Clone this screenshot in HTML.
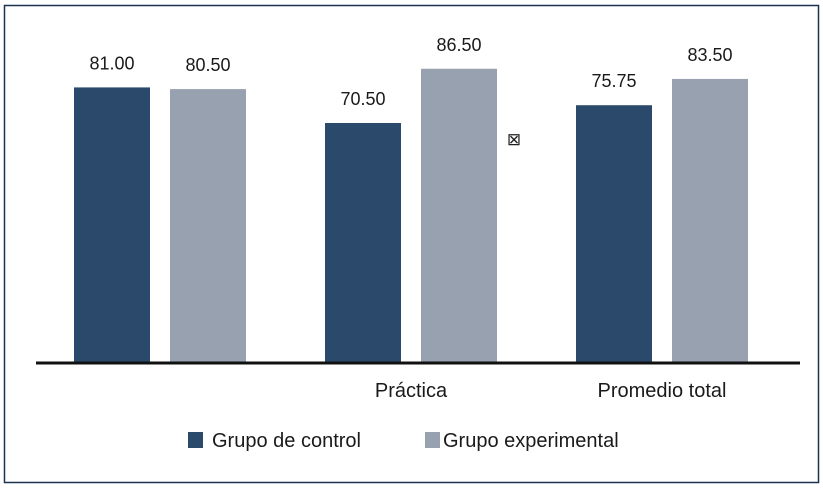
<!DOCTYPE html>
<html><head><meta charset="utf-8"><style>
body{margin:0;background:#fff;width:823px;height:488px;overflow:hidden}
svg{display:block;font-family:"Liberation Sans",sans-serif}
</style></head><body>
<svg width="823" height="488">
<rect x="4.5" y="5.5" width="814" height="477" fill="none" stroke="#1c3350" stroke-width="1.5"/>
<g id="bars"></g>
<line x1="36" y1="363" x2="800" y2="363" stroke="#111" stroke-width="3"/>
<text x="514" y="145" font-size="17" text-anchor="middle" fill="#222">⊠</text>
<g>
<rect x="188" y="432" width="15" height="16" fill="#2b4a6b"/>
<text x="212" y="447" font-size="20" fill="#1a1a1a">Grupo de control</text>
<rect x="425" y="432" width="15" height="16" fill="#98a1b0"/>
<text x="443" y="447" font-size="20" fill="#1a1a1a">Grupo experimental</text>
</g>
</svg>
<script>
const categories = ["", "Práctica", "Promedio total"];
const control = [81.00, 70.50, 75.75];
const experimental = [80.50, 86.50, 83.50];
const colors = ["#2b4a6b", "#98a1b0"];
const g = document.getElementById('bars');
const NS = "http://www.w3.org/2000/svg";
const baseY = 362, pxPerUnit = 3.39;
function y(v){return baseY - v*pxPerUnit;}
function xBar(ci, si){return 74 + ci*251 + si*96;}
const bw = 76;
[control, experimental].forEach((series, si) => {
  series.forEach((v, ci) => {
    const r = document.createElementNS(NS, 'rect');
    
    
    r.setAttribute('x', xBar(ci, si));
    r.setAttribute('y', y(v));
    r.setAttribute('width', bw);
    r.setAttribute('height', baseY - y(v));
    r.setAttribute('fill', colors[si]);
    g.appendChild(r);
    const t = document.createElementNS(NS, 'text');
    
    
    t.setAttribute('x', xBar(ci, si) + bw/2);
    t.setAttribute('y', y(v) - 18);
    t.setAttribute('text-anchor', 'middle');
    t.setAttribute('font-size', '18');
    t.setAttribute('fill', '#1a1a1a');
    t.textContent = v.toFixed(2);
    g.appendChild(t);
  });
});
categories.forEach((c, ci) => {
  const t = document.createElementNS(NS, 'text');
  
  
  t.setAttribute('x', xBar(ci, 0) + 86);
  t.setAttribute('y', 397);
  t.setAttribute('text-anchor', 'middle');
  t.setAttribute('font-size', '20');
  t.setAttribute('fill', '#1a1a1a');
  t.textContent = c;
  g.appendChild(t);
});
</script>
</body></html>
